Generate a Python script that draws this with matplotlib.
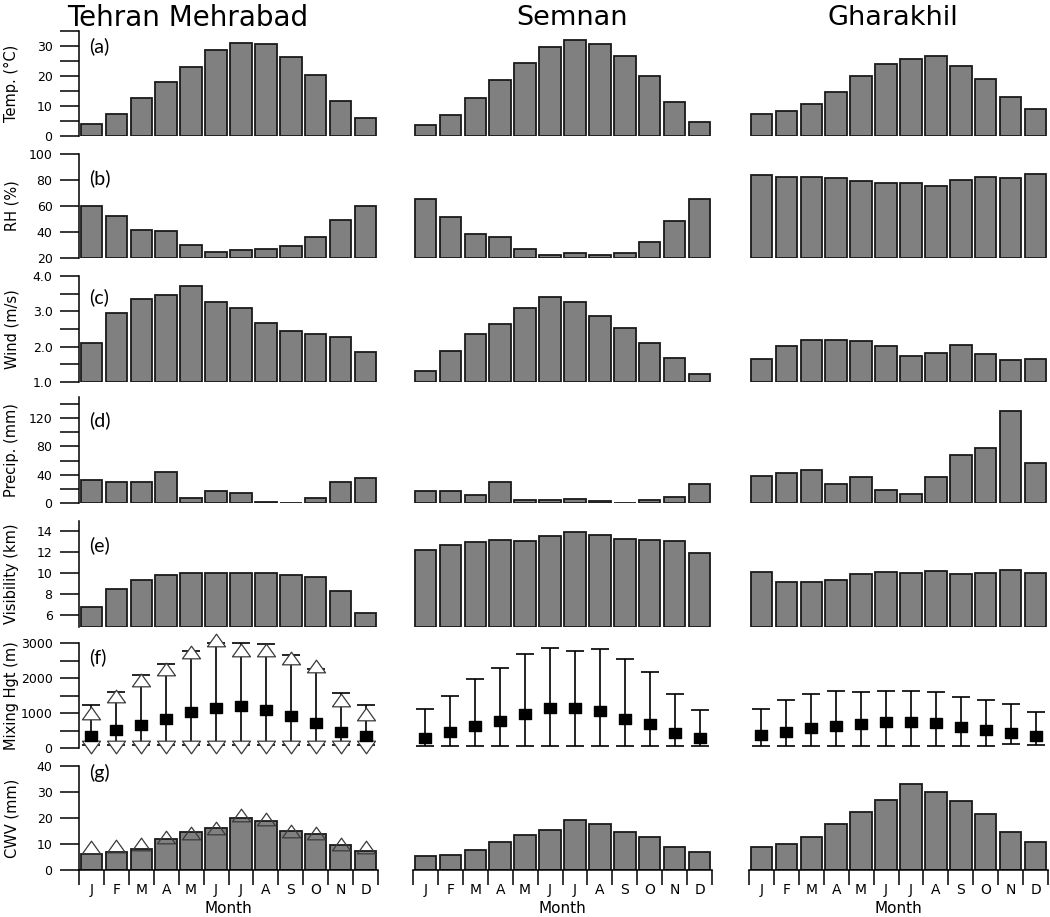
import numpy as np
import matplotlib
matplotlib.use('Agg')
import matplotlib.pyplot as plt
from matplotlib.path import Path

plt.rcParams['font.family'] = ['DejaVu Sans']

months = ['J', 'F', 'M', 'A', 'M', 'J', 'J', 'A', 'S', 'O', 'N', 'D']
stations = ['Tehran Mehrabad', 'Semnan', 'Gharakhil']

# (a) Temperature (°C)
temp_tehran = [4.0, 7.2, 12.8, 17.9, 23.1, 28.7, 30.9, 30.6, 26.2, 20.2, 11.7, 6.0]
temp_semnan = [3.7, 6.9, 12.8, 18.7, 24.3, 29.8, 32.1, 30.7, 26.6, 19.9, 11.2, 4.8]
temp_gharakhil = [7.2, 8.4, 10.8, 14.8, 19.9, 23.9, 25.8, 26.7, 23.4, 19.1, 13.1, 8.9]

# (b) Relative humidity (%)
rh_tehran = [60.2, 52.3, 41.5, 40.5, 30.2, 24.8, 25.8, 26.9, 29.5, 35.8, 48.9, 59.7]
rh_semnan = [65.1, 51.5, 38.5, 35.8, 26.9, 22.3, 24.1, 22.3, 24.1, 32.3, 48.2, 65.1]
rh_gharakhil = [83.5, 82.5, 82.5, 81.5, 78.9, 77.9, 77.9, 75.1, 79.7, 82.5, 81.5, 84.3]

# (c) Wind speed (m/s)
wind_tehran = [2.09, 2.94, 3.34, 3.45, 3.71, 3.26, 3.09, 2.67, 2.45, 2.36, 2.26, 1.85]
wind_semnan = [1.31, 1.87, 2.36, 2.63, 3.09, 3.40, 3.26, 2.86, 2.53, 2.10, 1.69, 1.24]
wind_gharakhil = [1.65, 2.02, 2.19, 2.19, 2.15, 2.02, 1.75, 1.82, 2.06, 1.78, 1.61, 1.65]

# (d) Precipitation (mm)
precip_tehran = [32.7, 29.9, 29.9, 43.2, 7.7, 16.6, 14.2, 0.8, 0.5, 7.7, 29.9, 34.7]
precip_semnan = [17.5, 17.5, 11.8, 29.3, 4.3, 4.3, 6.1, 2.3, 0.7, 3.8, 9.0, 27.5]
precip_gharakhil = [38.8, 42.7, 47.4, 27.0, 37.0, 18.5, 13.2, 37.0, 67.7, 77.7, 129.9, 57.3]

# (e) Visibility (km)
vis_tehran = [6.79, 8.48, 9.30, 9.81, 9.97, 9.97, 9.97, 9.97, 9.84, 9.62, 8.29, 6.19]
vis_semnan = [12.22, 12.67, 12.92, 13.11, 13.02, 13.50, 13.90, 13.59, 13.24, 13.11, 13.02, 11.90]
vis_gharakhil = [10.07, 9.17, 9.17, 9.30, 9.88, 10.07, 9.97, 10.19, 9.88, 9.97, 10.29, 9.97]

# (f) Mixing height (m): mean, lower and upper whiskers
mix_mean_tehran = [336, 509, 661, 816, 1017, 1149, 1207, 1083, 911, 701, 451, 336]
mix_low_tehran = [80, 80, 80, 80, 80, 80, 80, 80, 80, 80, 80, 80]
mix_high_tehran = [1236, 1600, 2089, 2397, 2759, 3010, 2990, 2960, 2664, 2253, 1580, 1227]
mix_tri_high_tehran = [997, 1490, 1930, 2267, 2741, 3080, 2807, 2807, 2570, 2348, 1370, 968]
mix_tri_low_tehran = [20, 20, 20, 20, 20, 20, 20, 20, 20, 20, 20, 20]

mix_mean_semnan = [299, 443, 632, 767, 960, 1132, 1149, 1046, 833, 672, 431, 299]
mix_low_semnan = [70, 70, 70, 70, 70, 70, 70, 70, 70, 70, 70, 70]
mix_high_semnan = [1121, 1494, 1974, 2282, 2672, 2865, 2759, 2828, 2557, 2175, 1543, 1092]

mix_mean_gharakhil = [365, 460, 566, 615, 672, 738, 738, 710, 603, 509, 431, 336]
mix_low_gharakhil = [70, 70, 70, 70, 70, 70, 70, 70, 70, 70, 106, 80]
mix_high_gharakhil = [1121, 1371, 1534, 1638, 1609, 1638, 1638, 1609, 1466, 1371, 1264, 1026]

# (g) Column water vapour (mm)
cwv_tehran = [6.0, 6.9, 8.2, 12.0, 14.7, 16.0, 20.1, 18.8, 15.0, 13.8, 9.6, 7.3]
cwv_tri_tehran = [8.7, 9.3, 10.0, 12.6, 14.4, 16.3, 21.2, 19.7, 15.0, 14.2, 10.1, 8.9]
cwv_semnan = [5.5, 5.9, 7.7, 10.9, 13.5, 15.5, 19.2, 17.8, 14.5, 12.7, 8.7, 6.8]
cwv_gharakhil = [8.7, 10.0, 12.8, 17.8, 22.2, 26.8, 33.1, 30.0, 26.5, 21.7, 14.6, 10.9]

bar_data = {
    0: [temp_tehran, temp_semnan, temp_gharakhil],
    1: [rh_tehran, rh_semnan, rh_gharakhil],
    2: [wind_tehran, wind_semnan, wind_gharakhil],
    3: [precip_tehran, precip_semnan, precip_gharakhil],
    4: [vis_tehran, vis_semnan, vis_gharakhil],
    6: [cwv_tehran, cwv_semnan, cwv_gharakhil],
}
mix_data = [
    (mix_mean_tehran, mix_low_tehran, mix_high_tehran),
    (mix_mean_semnan, mix_low_semnan, mix_high_semnan),
    (mix_mean_gharakhil, mix_low_gharakhil, mix_high_gharakhil),
]

ylabels = ['Temp. (°C)', 'RH (%)', 'Wind (m/s)', 'Precip. (mm)',
           'Visibility (km)', 'Mixing Hgt (m)', 'CWV (mm)']
panel_tags = ['(a)', '(b)', '(c)', '(d)', '(e)', '(f)', '(g)']
panel_tag_y = [0.857, 0.77, 0.80, 0.78, 0.766, 0.867, 0.93]

ylims = [(0, 35), (20, 100), (1, 4), (0, 150), (4.85, 15), (0, 3000), (0, 40)]
yticks = [
    ([0, 5, 10, 15, 20, 25, 30, 35], ['0', '', '10', '', '20', '', '30', '']),
    ([20, 40, 60, 80, 100], ['20', '40', '60', '80', '100']),
    ([1, 1.5, 2, 2.5, 3, 3.5, 4], ['1.0', '', '2.0', '', '3.0', '', '4.0']),
    ([0, 20, 40, 60, 80, 100, 120, 140], ['0', '', '40', '', '80', '', '120', '']),
    ([6, 8, 10, 12, 14], ['6', '8', '10', '12', '14']),
    ([0, 500, 1000, 1500, 2000, 2500, 3000], ['0', '', '1000', '', '2000', '', '3000']),
    ([0, 10, 20, 30, 40], ['0', '10', '20', '30', '40']),
]

# layout (pixels)
W, H = 1050, 917
col_x = [79, 413, 749]
col_w = 299
rows = [(31, 136), (154, 258), (276, 382), (397, 503), (520.5, 627), (643, 748), (766, 870)]
title_x = [188, 572, 893]
title_size = [20, 19.5, 19.5]

bar_face = '#808080'
bar_edge = '#1a1a1a'

tri_up = Path([(-1, -0.7), (1, -0.7), (0, 0.7), (-1, -0.7)],
              [Path.MOVETO, Path.LINETO, Path.LINETO, Path.CLOSEPOLY])
tri_dn = Path([(-1, 0.7), (1, 0.7), (0, -0.7), (-1, 0.7)],
              [Path.MOVETO, Path.LINETO, Path.LINETO, Path.CLOSEPOLY])
sq = Path([(-1, -0.85), (1, -0.85), (1, 0.85), (-1, 0.85), (-1, -0.85)],
          [Path.MOVETO, Path.LINETO, Path.LINETO, Path.LINETO, Path.CLOSEPOLY])

fig = plt.figure(figsize=(W / 100, H / 100), dpi=100)
x = np.arange(1, 13)

for c in range(3):
    fig.text(title_x[c] / W, 1 - 18 / H, stations[c], ha='center', va='center',
             fontsize=title_size[c])
    for r in range(7):
        top, bot = rows[r]
        ax = fig.add_axes([col_x[c] / W, 1 - bot / H, col_w / W, (bot - top) / H])
        ax.set_xlim(0.5, 12.5)
        ax.set_ylim(*ylims[r])
        for s in ax.spines.values():
            s.set_visible(False)
        ax.set_xticks([])
        ax.set_yticks([])
        base = ylims[r][0]
        if r in bar_data:
            vals = np.array(bar_data[r][c])
            ax.bar(x, vals - base, bottom=base, width=0.86, color=bar_face,
                   edgecolor=bar_edge, linewidth=1.3, zorder=2)
        else:
            mean, low, high = [np.array(v) for v in mix_data[c]]
            ax.errorbar(x, mean, yerr=[mean - low, high - mean], fmt='none',
                        ecolor='black', elinewidth=1.2, capsize=6.8, capthick=1.2,
                        zorder=2, clip_on=False)
            if c == 0:
                ax.plot(x, mix_tri_high_tehran, ls='none', marker=tri_up, ms=13,
                        mfc='white', mec='#3a3a3a', mew=0.9, zorder=3, clip_on=False)
                ax.plot(x, mix_tri_low_tehran, ls='none', marker=tri_dn, ms=13,
                        mfc='white', mec='#3a3a3a', mew=0.9, zorder=3, clip_on=False)
            ax.plot(x, mean, ls='none', marker=sq, ms=8.5, color='black', zorder=4,
                    clip_on=False)
        if r == 6 and c == 0:
            ax.plot(x, cwv_tri_tehran, ls='none', marker=tri_up, ms=13,
                    mfc='none', mec='#3a3a3a', mew=0.9, zorder=3, clip_on=False)

        if c == 0:
            ax.spines['left'].set_visible(True)
            ax.spines['left'].set_linewidth(1.1)
            ticks, labels = yticks[r]
            ax.set_yticks(ticks)
            ax.set_yticklabels(labels)
            ax.tick_params(axis='y', direction='out', length=14, width=1.1,
                           pad=5, labelsize=9)
            ax.set_ylabel(ylabels[r], fontsize=10.5)
            ax.yaxis.set_label_coords(-0.2, 0.5)
            ax.text(0.033, panel_tag_y[r], panel_tags[r], transform=ax.transAxes,
                    ha='left', va='center', fontsize=14, family=['Lato', 'DejaVu Sans'])
        if r == 6:
            ax.spines['bottom'].set_visible(True)
            ax.spines['bottom'].set_linewidth(1.1)
            ax.set_xticks(np.arange(0.5, 13, 1))
            ax.set_xticklabels([])
            ax.set_xticks(x, minor=True)
            ax.set_xticklabels(months, minor=True)
            ax.tick_params(axis='x', which='major', direction='out', length=11,
                           width=1.1)
            ax.tick_params(axis='x', which='minor', length=0, pad=9.5, labelsize=10)
            ax.set_xlabel('Month', fontsize=11)
            ax.xaxis.set_label_coords(0.5, -0.30)

fig.savefig('out.png', dpi=100)
